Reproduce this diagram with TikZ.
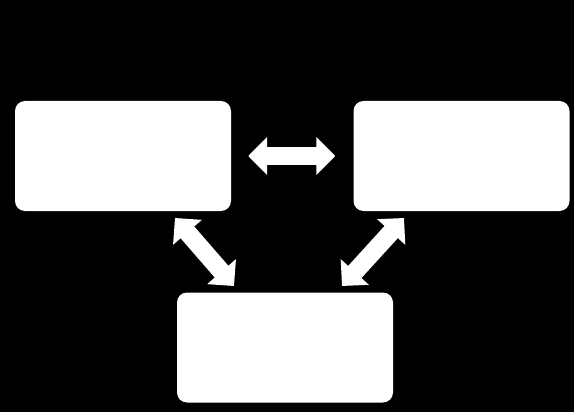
\documentclass[tikz,border=0pt]{standalone}
\usetikzlibrary{arrows.meta}

\tikzset{
  box/.style={draw=none, fill=white, rounded corners=10pt, inner sep=0pt,
    minimum width=216pt, minimum height=110pt},
  blockarrow/.style={draw=white, line width=18pt,
    {Triangle[width=37pt,length=19pt]}-{Triangle[width=37pt,length=19pt]}}
}

\begin{document}
\begin{tikzpicture}[x=1pt,y=-1pt]
  % outer frame (black background)
  \fill[black] (0,0) rectangle (574,412);
  \useasboundingbox (0,0) rectangle (574,412);

  % the three boxes
  \node[box] (left) at (123,156) {};
  \node[box] (right) at (461.5,156) {};
  \node[box] (bottom) at (285,347.5) {};

  % free ends of the slanted arrows
  \coordinate (lefttip) at (175,218);
  \coordinate (lefttoe) at (234,286);
  \coordinate (righttip) at (404,218);
  \coordinate (righttoe) at (342,286);

  % arrows between the boxes
  \draw[blockarrow, shorten <=17pt, shorten >=18pt] (left.east) -- (right.west);
  \draw[blockarrow] (lefttip) -- (lefttoe);
  \draw[blockarrow] (righttip) -- (righttoe);
\end{tikzpicture}
\end{document}
